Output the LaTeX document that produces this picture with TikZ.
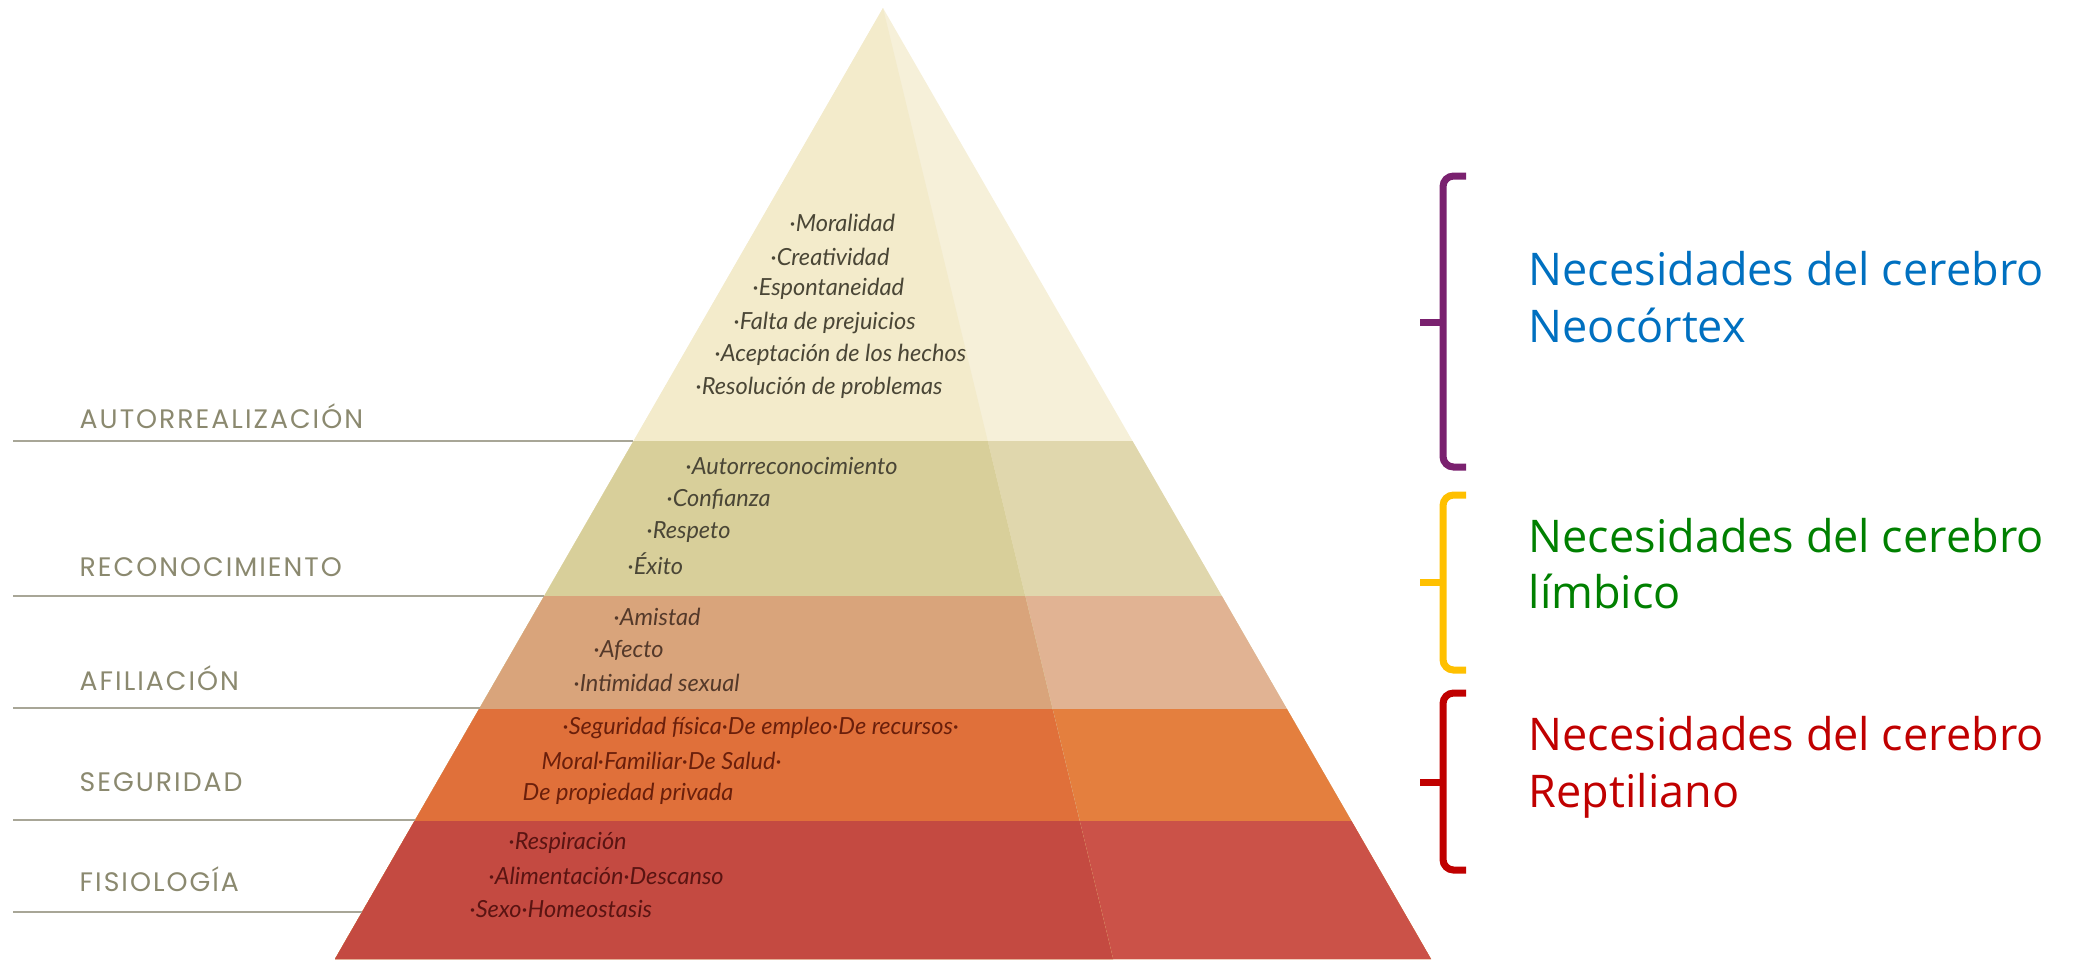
\documentclass[tikz,border=0pt]{standalone}
\usepackage{fontspec}
\setmainfont{Lato}
\newfontfamily\levelfont[LetterSpace=7.5]{Poppins}
\newfontfamily\sidefont{Open Sans}
\usetikzlibrary{positioning}

\definecolor{topL}{HTML}{F3EBCB}
\definecolor{topR}{HTML}{F6F0D9}
\definecolor{recL}{HTML}{D8CF9A}
\definecolor{recR}{HTML}{E0D7AD}
\definecolor{afiL}{HTML}{D9A47B}
\definecolor{afiR}{HTML}{E1B393}
\definecolor{segL}{HTML}{E0703A}
\definecolor{segR}{HTML}{E47F3E}
\definecolor{fisL}{HTML}{C44A41}
\definecolor{fisR}{HTML}{CB5248}
\definecolor{labelgray}{HTML}{8B896F}
\definecolor{linegray}{HTML}{A8A697}
\definecolor{inkA}{HTML}{4A4636}
\definecolor{inkB}{HTML}{54392A}
\definecolor{inkC}{HTML}{6A1F0B}
\definecolor{inkD}{HTML}{5A1412}
\definecolor{neoBrace}{HTML}{7A216F}
\definecolor{limBrace}{HTML}{FFC000}
\definecolor{repBrace}{HTML}{C00000}
\definecolor{neoText}{HTML}{0070C0}
\definecolor{limText}{HTML}{008000}
\definecolor{repText}{HTML}{C00000}

\begin{document}
\begin{tikzpicture}[x=0.01cm, y=-0.01cm,
    item/.style={anchor=west, inner sep=0pt, font=\fontsize{6.7}{8}\selectfont\itshape},
    level/.style={anchor=west, inner sep=0pt, text=labelgray, font=\levelfont\fontsize{7.6}{9}\selectfont},
    side/.style={anchor=base west, inner sep=0pt, font=\sidefont\fontsize{12.8}{15}\selectfont},
    guide/.style={draw=linegray, line width=0.6pt},
    bracket/.style={line width=2pt, rounded corners=3pt}]

    \useasboundingbox (0,0) rectangle (2073,959);

    % esquinas de la pirámide
    \coordinate (apex) at (883,8);
    \coordinate (bl) at (335,959);
    \coordinate (br) at (1431,959);
    \coordinate (fb) at (1113,959);

    % cara derecha (más clara)
    \begin{scope}
        \clip (apex) -- (bl) -- (br) -- cycle;
        \foreach \ya/\c in {0/topR, 441/recR, 596/afiR, 709/segR, 821/fisR}
            \fill[\c] (300,\ya) rectangle (1500,960);
    \end{scope}

    % cara izquierda
    \begin{scope}
        \clip (apex) -- (bl) -- (fb) -- cycle;
        \foreach \ya/\c in {0/topL, 441/recL, 596/afiL, 709/segL, 821/fisL}
            \fill[\c] (300,\ya) rectangle (1500,960);
    \end{scope}

    % líneas guía de los niveles
    \foreach \y/\x [count=\i] in {441/633, 596/544, 708/480, 820/415, 912/362} {
        \coordinate (gs\i) at (13,\y);
        \coordinate (ge\i) at (\x,\y);
        \draw[guide] (gs\i) -- (ge\i);
    }

    % nombres de los niveles
    \node[level] (autorr) at (79,416) {AUTORREALIZACIÓN};
    \node[level] (recon) at (79,567) {RECONOCIMIENTO};
    \node[level] (afil) at (79,678) {AFILIACIÓN};
    \node[level] (segur) at (79,782) {SEGURIDAD};
    \node[level] (fisio) at (79,879) {FISIOLOGÍA};

    % necesidades dentro de la pirámide
    \foreach \x/\y/\t [count=\i] in {789/223/·Moralidad, 770/257/·Creatividad,
            752/289/·Espontaneidad, 733/323/·Falta de prejuicios,
            714/355/·Aceptación de los hechos, 695/388/·Resolución de problemas}
        \node[item, text=inkA] (auto\i) at (\x,\y) {\t};
    \foreach \x/\y/\t [count=\i] in {685/466/·Autorreconocimiento, 666/499/·Confianza,
            646/532/·Respeto, 627/564/·Éxito}
        \node[item, text=inkA] (reco\i) at (\x,\y) {\t};
    \foreach \x/\y/\t [count=\i] in {613/617/·Amistad, 593/650/·Afecto,
            573/683/·Intimidad sexual}
        \node[item, text=inkB] (afil\i) at (\x,\y) {\t};
    \foreach \x/\y/\t [count=\i] in {562/728/·Seguridad física·De empleo·De recursos·,
            541/761/Moral·Familiar·De Salud·, 522/794/De propiedad privada}
        \node[item, text=inkC] (segu\i) at (\x,\y) {\t};
    \foreach \x/\y/\t [count=\i] in {508/843/·Respiración, 488/876/·Alimentación·Descanso,
            469/909/·Sexo·Homeostasis}
        \node[item, text=inkD] (fisi\i) at (\x,\y) {\t};

    % llaves
    \foreach \top/\tip/\bot/\c in {176/322/467/neoBrace, 495/582/670/limBrace, 693/782/870/repBrace} {
        \draw[bracket, draw=\c] (1466,\top) -- (1443,\top) -- (1443,\bot) -- (1466,\bot);
        \draw[line width=2pt, draw=\c] (1420,\tip) -- (1443,\tip);
    }

    % textos de los cerebros
    \node[side, text=neoText] (neoA) at (1528,285) {Necesidades del cerebro};
    \node[side, text=neoText] (neoB) at (1528,342) {Neocórtex};
    \node[side, text=limText] (limA) at (1528,552) {Necesidades del cerebro};
    \node[side, text=limText] (limB) at (1528,608) {límbico};
    \node[side, text=repText] (repA) at (1528,750) {Necesidades del cerebro};
    \node[side, text=repText] (repB) at (1528,807) {Reptiliano};
\end{tikzpicture}
\end{document}
